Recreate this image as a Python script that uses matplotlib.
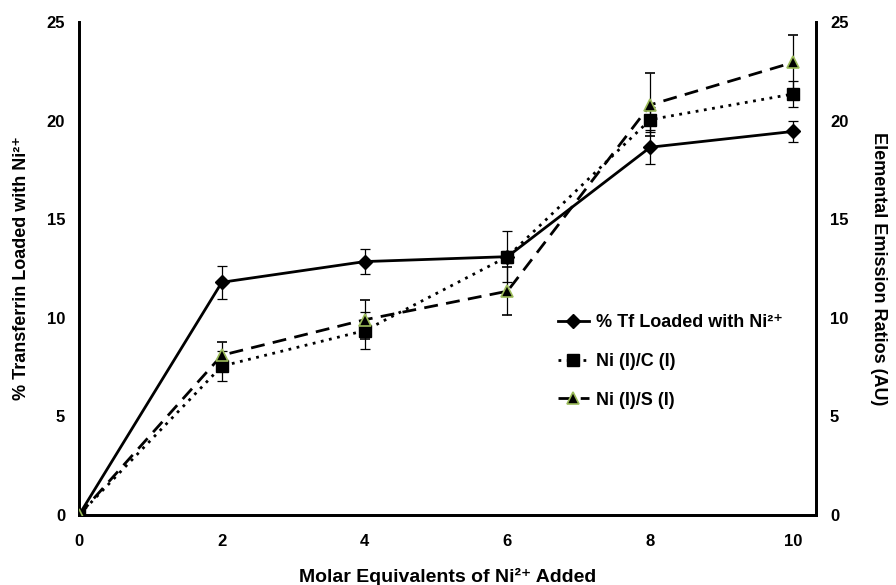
import matplotlib.pyplot as plt
from matplotlib import rcParams
from matplotlib.lines import Line2D

rcParams.update({"font.family": ["Liberation Sans", "DejaVu Sans"],
                 "font.weight": "bold", "font.size": 12})

# molar equivalents of Ni2+ added
equiv = [0, 2, 4, 6, 8, 10]
# % Tf loaded with Ni2+ (left axis)
tf_loaded = [0, 11.8, 12.85, 13.1, 18.65, 19.45]
tf_err = [0, 0.85, 0.65, 0.3, 0.85, 0.53]
# emission ratios (right axis)
ni_c = [0, 7.55, 9.35, 13.1, 20.05, 21.35]
ni_c_err = [0, 0.75, 0.93, 1.3, 0.64, 0.65]
ni_s = [0, 8.1, 9.9, 11.35, 20.8, 22.95]
ni_s_err = [0, 0.67, 1.0, 1.2, 1.6, 1.4]

fig = plt.figure(figsize=(8.96, 5.85), dpi=100)
ax = fig.add_axes([0.0882, 0.1197, 0.8225, 0.8427])
ax2 = ax.twinx()

eb = dict(ecolor='k', elinewidth=0.9, capsize=3.5, capthick=0.9)
st_tf = dict(color='k', lw=2, ls='-', marker='D', ms=7, mfc='k', mec='k')
st_c = dict(color='k', lw=2, ls=(0, (1, 2)), marker='s', ms=9, mfc='k', mec='k')
st_s = dict(color='k', lw=2, ls=(0, (5, 3)), marker='^', ms=9, mfc='k',
            mec='#9bbb59', mew=1.2)

ax.errorbar(equiv, tf_loaded, yerr=tf_err, zorder=3, **st_tf, **eb)
ax2.errorbar(equiv, ni_c, yerr=ni_c_err, zorder=3, **st_c, **eb)
ax2.errorbar(equiv, ni_s, yerr=ni_s_err, zorder=3, **st_s, **eb)

for a in (ax, ax2):
    a.set_xlim(0, 10.32)
    a.set_ylim(0, 25)
    a.set_yticks([0, 5, 10, 15, 20, 25])
    a.tick_params(length=0, pad=10, labelsize=12)
    for s in a.spines.values():
        s.set_linewidth(2)
    a.spines['top'].set_visible(False)
ax.set_xticks(equiv)
ax.tick_params(axis='x', pad=14)

ax.set_xlabel('Molar Equivalents of Ni²⁺ Added', fontsize=14,
              fontweight='bold', labelpad=13)
ax.set_ylabel('% Transferrin Loaded with Ni²⁺', fontsize=13,
              fontweight='bold', labelpad=12)
ax2.set_ylabel('Elemental Emission Ratios (AU)', fontsize=13,
               fontweight='bold', rotation=-90, labelpad=28)

# legend sits just left of the right axis, lower half
handles = [Line2D([], [], **st_tf), Line2D([], [], **st_c), Line2D([], [], **st_s)]
labels = ['% Tf Loaded with Ni²⁺', 'Ni (I)/C (I)', 'Ni (I)/S (I)']
ax2.legend(handles, labels, loc='upper left',
           bbox_to_anchor=(0.628, 0.44), frameon=False, fontsize=13,
           handlelength=1.7, labelspacing=1.2, handletextpad=0.4)

fig.savefig('out.png', dpi=100)
